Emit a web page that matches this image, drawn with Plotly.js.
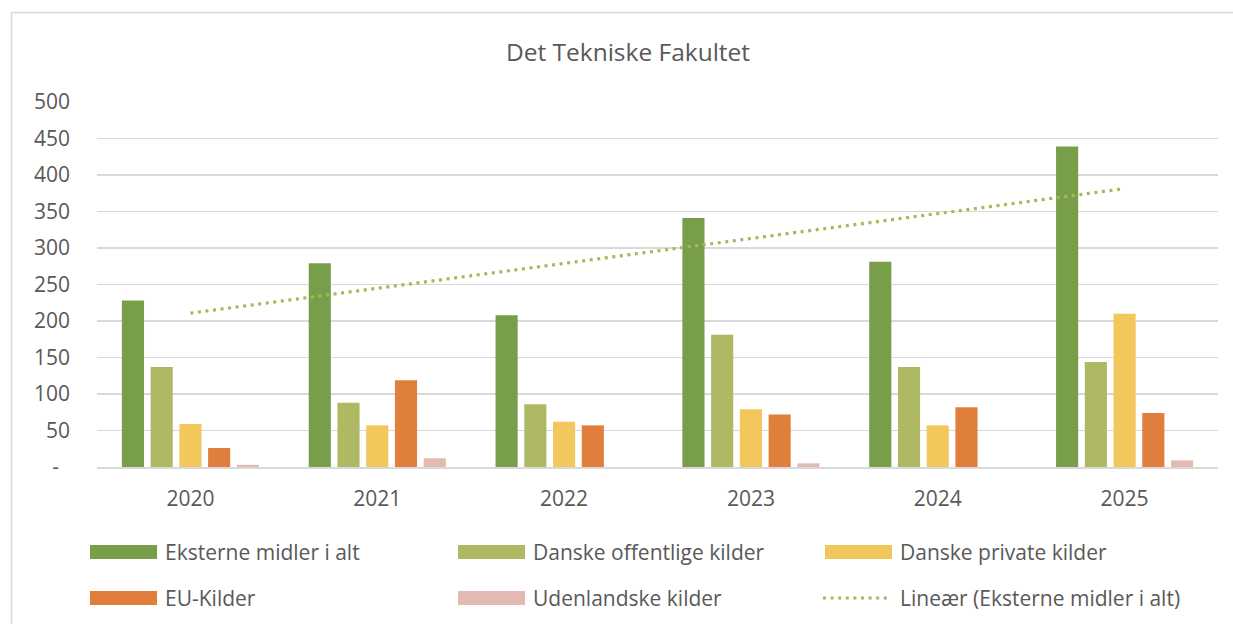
<!DOCTYPE html>
<html>
<head>
<meta charset="utf-8">
<script src="https://cdn.plot.ly/plotly-3.0.1.min.js"></script>
<style>
  html, body { margin: 0; padding: 0; background: #ffffff; }
  #chart { width: 1233px; height: 624px; }
</style>
</head>
<body>
<div id="chart"></div>
<script>
// ---- Data ----
const years = ['2020', '2021', '2022', '2023', '2024', '2025'];
const eksterne = [228, 279, 208, 341, 281, 439];   // Eksterne midler i alt
const danskeOffentlige = [137, 88, 86, 181, 137, 144];
const danskePrivate = [59, 57, 62, 79, 57, 210];
const euKilder = [26, 119, 57, 72, 82, 74];
const udenlandske = [3, 12, 0, 5, 0, 9];
const yTickVals = [0, 50, 100, 150, 200, 250, 300, 350, 400, 450, 500];
const yTickText = ['-\u00a0\u00a0', '50', '100', '150', '200', '250', '300', '350', '400', '450', '500'];

const seriesNames = ['Eksterne midler i alt', 'Danske offentlige kilder', 'Danske private kilder', 'EU-Kilder', 'Udenlandske kilder'];
const trendName = 'Lineær (Eksterne midler i alt)';
const colors = ['#789e4a', '#afb862', '#f2c75c', '#e07e3c', '#e4b9b2'];
const trendColor = '#a2ba5b';

// Linear trendline (least squares on category index) of the totals, as Excel does
function linearFit(vals) {
  const n = vals.length;
  const xs = vals.map((_, i) => i + 1);
  const mx = xs.reduce((a, b) => a + b, 0) / n;
  const my = vals.reduce((a, b) => a + b, 0) / n;
  let sxy = 0, sxx = 0;
  for (let i = 0; i < n; i++) { sxy += (xs[i] - mx) * (vals[i] - my); sxx += (xs[i] - mx) ** 2; }
  const b = sxy / sxx, a = my - b * mx;
  return xs.map(x => a + b * x);
}
const trend = linearFit(eksterne);

// ---- Layout geometry ----
const W = 1233, H = 624;
const M = { l: 97, r: 15, t: 102, b: 157 };
const PW = W - M.l - M.r, PH = H - M.t - M.b;
const px = x => (x - M.l) / PW;
const py = y => (H - M.b - y) / PH;

const FONT = '"Open Sans", Lato, "Liberation Sans", sans-serif';
const TXT = '#595959';

const allSeries = [eksterne, danskeOffentlige, danskePrivate, euKilder, udenlandske];
const traces = allSeries.map((vals, i) => ({
  type: 'bar',
  name: seriesNames[i],
  x: years,
  y: vals,
  marker: { color: colors[i], line: { width: 0 } },
  showlegend: false,
  hoverinfo: 'x+y+name'
}));
traces.push({
  type: 'scatter',
  mode: 'lines',
  name: trendName,
  x: years,
  y: trend,
  line: { color: trendColor, width: 3.2, dash: '3px,4.6px' },
  showlegend: false
});

// ---- Custom legend (swatches + labels) ----
const legendItems = [
  { name: seriesNames[0], color: colors[0], col: 0, row: 0, kind: 'bar' },
  { name: seriesNames[1], color: colors[1], col: 1, row: 0, kind: 'bar' },
  { name: seriesNames[2], color: colors[2], col: 2, row: 0, kind: 'bar' },
  { name: seriesNames[3], color: colors[3], col: 0, row: 1, kind: 'bar' },
  { name: seriesNames[4], color: colors[4], col: 1, row: 1, kind: 'bar' },
  { name: trendName, color: trendColor, col: 2, row: 1, kind: 'line' }
];
const colX = [90, 458, 825];
const rowY = [552, 598];
const shapes = [];
const annotations = [];
legendItems.forEach(it => {
  const x0 = colX[it.col], x1 = x0 + 67, yc = rowY[it.row];
  if (it.kind === 'bar') {
    shapes.push({ type: 'rect', xref: 'paper', yref: 'paper',
      x0: px(x0), x1: px(x1), y0: py(yc + 7), y1: py(yc - 7),
      fillcolor: it.color, line: { width: 0 } });
  } else {
    shapes.push({ type: 'line', xref: 'paper', yref: 'paper',
      x0: px(x0 - 2), x1: px(x1 - 2), y0: py(yc), y1: py(yc),
      line: { color: it.color, width: 3.2, dash: '3px,4.6px' } });
  }
  annotations.push({ xref: 'paper', yref: 'paper', x: px(x1 + 6), y: py(yc),
    xanchor: 'left', yanchor: 'middle', showarrow: false, text: it.name,
    font: { family: FONT, size: 21, color: TXT } });
});
// Chart area border
shapes.push({ type: 'rect', xref: 'paper', yref: 'paper',
  x0: px(11.5), x1: px(1245), y0: py(640), y1: py(12.5),
  line: { color: '#d9d9d9', width: 1.5 }, fillcolor: 'rgba(0,0,0,0)', layer: 'below' });

const layout = {
  width: W, height: H,
  margin: M,
  paper_bgcolor: '#ffffff',
  plot_bgcolor: '#ffffff',
  font: { family: FONT, color: TXT, size: 21 },
  title: { text: 'Det Tekniske Fakultet', xref: 'container', x: 628 / W, xanchor: 'center',
    yref: 'container', y: 1 - 52 / H, yanchor: 'middle',
    font: { family: FONT, size: 24.5, color: TXT } },
  barmode: 'group',
  bargap: 0.231,
  bargroupgap: 0.23,
  showlegend: false,
  xaxis: {
    type: 'category',
    showgrid: false,
    showline: true, linecolor: '#d9d9d9', linewidth: 2,
    ticks: '', ticklabelstandoff: 12,
    tickfont: { family: FONT, size: 21, color: TXT },
    fixedrange: true
  },
  yaxis: {
    range: [0, 500],
    tickvals: yTickVals, ticktext: yTickText,
    showgrid: true, gridcolor: '#d9d9d9', gridwidth: 1.5,
    zeroline: false, showline: false,
    ticks: '', ticklabelstandoff: 26,
    tickfont: { family: FONT, size: 21, color: TXT },
    fixedrange: true
  },
  shapes: shapes,
  annotations: annotations
};

Plotly.newPlot('chart', traces, layout, { displayModeBar: false, staticPlot: true });
</script>
</body>
</html>
